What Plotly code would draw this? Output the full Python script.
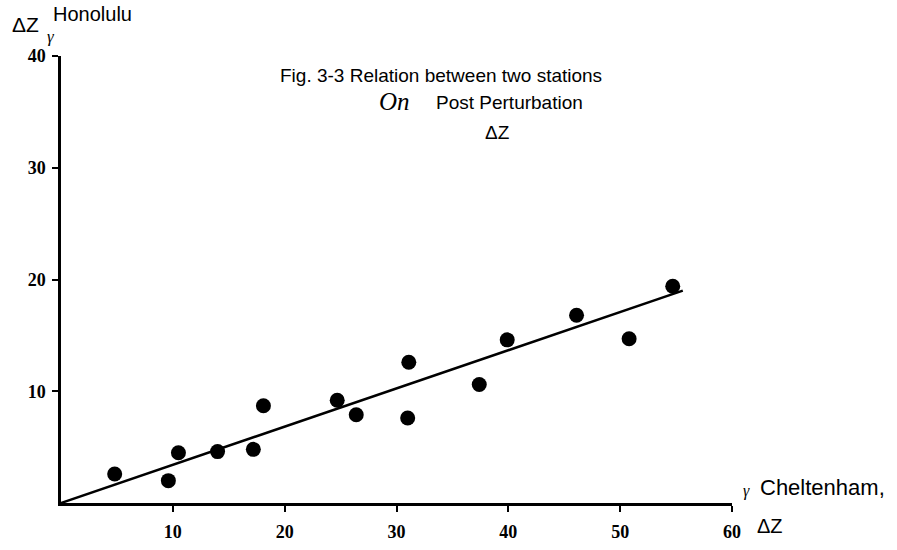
import plotly.graph_objects as go

# ΔZ values (gamma) observed at the two stations
cheltenham_dz = [4.8, 9.6, 10.5, 14.0, 17.2, 18.1, 24.7, 26.4, 31.1, 31.0, 37.4, 39.9, 46.1, 50.8, 54.7]
honolulu_dz = [2.6, 2.0, 4.5, 4.6, 4.8, 8.7, 9.2, 7.9, 12.6, 7.6, 10.6, 14.6, 16.8, 14.7, 19.4]

# fitted relation through the origin
fit_x = [0, 55.6]
fit_y = [0, 19.0]

x_ticks = [10, 20, 30, 40, 50, 60]
y_ticks = [10, 20, 30, 40]

serif = "Liberation Serif"
sans = "Liberation Sans"

fig = go.Figure()
fig.add_trace(go.Scatter(x=fit_x, y=fit_y, mode="lines",
                         line=dict(color="black", width=2.5), hoverinfo="skip"))
fig.add_trace(go.Scatter(x=cheltenham_dz, y=honolulu_dz, mode="markers",
                         marker=dict(color="black", size=15)))

axis_common = dict(showline=True, linecolor="black", linewidth=2.5,
                   ticks="outside", tickcolor="black", tickwidth=2, ticklen=6,
                   showgrid=False, zeroline=False,
                   tickfont=dict(family=serif, size=18, color="black", weight="bold"))

fig.update_xaxes(range=[0, 60], tickvals=x_ticks, ticklabelstandoff=5,
                 domain=[61 / 897, 732 / 897], **axis_common)
fig.update_yaxes(range=[0, 40], tickvals=y_ticks, ticklabelstandoff=3,
                 domain=[(550 - 503) / 550, (550 - 56) / 550], **axis_common)

# text placed by page position (px from left, px from top)
labels = [
    dict(xpx=441, ypx=75, text="Fig. 3-3 Relation between two stations", size=19, family=sans),
    dict(xpx=394, ypx=102, text="<i>On</i>", size=25, family=serif),
    dict(xpx=509, ypx=103, text="Post Perturbation", size=19, family=sans),
    dict(xpx=497, ypx=132, text="ΔZ", size=19, family=sans),
    dict(xpx=25, ypx=24, text="ΔZ", size=21, family=sans),
    dict(xpx=51, ypx=37, text="<i>γ</i>", size=17, family=serif),
    dict(xpx=92, ypx=14, text="Honolulu", size=20, family=sans),
    dict(xpx=746, ypx=491, text="<i>γ</i>", size=16, family=serif),
    dict(xpx=822, ypx=487, text="Cheltenham,", size=22, family=sans),
    dict(xpx=770, ypx=526, text="ΔZ", size=20, family=sans),
]
for a in labels:
    fig.add_annotation(x=a["xpx"] / 897, y=1 - a["ypx"] / 550, xref="paper", yref="paper",
                       xanchor="center", yanchor="middle", showarrow=False,
                       text=a["text"], font=dict(family=a["family"], size=a["size"], color="black"))

fig.update_layout(
    width=897, height=550,
    margin=dict(l=0, r=0, t=0, b=0, autoexpand=False),
    paper_bgcolor="white", plot_bgcolor="white",
    showlegend=False,
)

fig.write_html("out.html")
